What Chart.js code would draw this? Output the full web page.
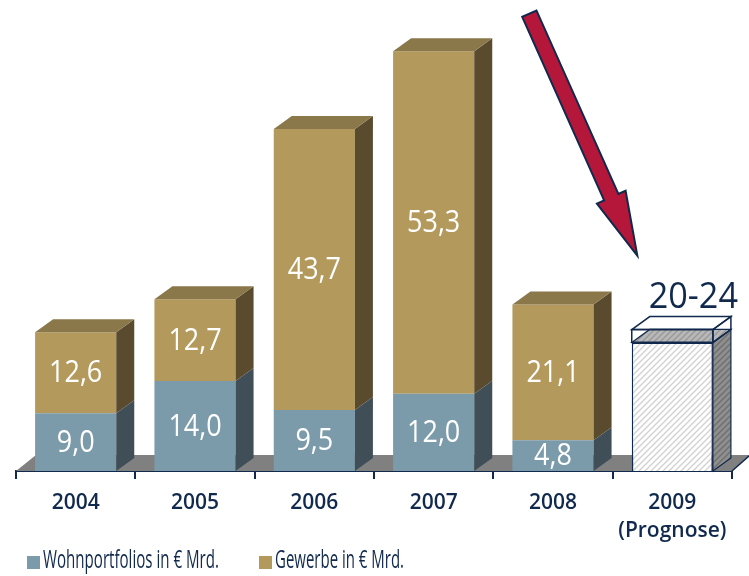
<!DOCTYPE html>
<html>
<head>
<meta charset="utf-8">
<script src="https://cdn.jsdelivr.net/npm/chart.js@4"></script>
<style>html,body{margin:0;padding:0;background:#fff}</style>
</head>
<body>
<canvas id="chart" width="749" height="576"></canvas>
<script>
const years = ['2004', '2005', '2006', '2007', '2008', ['2009', '(Prognose)']];
const wohn = [9.0, 14.0, 9.5, 12.0, 4.8, null];
const gewerbe = [12.6, 12.7, 43.7, 53.3, 21.1, null];
const prognose = [null, null, null, null, null, 20];
const spanne = [null, null, null, null, null, 2];
const prognoseText = '20-24';
const seriesNames = ['Wohnportfolios in € Mrd.', 'Gewerbe in € Mrd.'];

const navy = '#10294d';
const DX = 18, DY = 13;
const canvas = document.getElementById('chart');
const ctx = canvas.getContext('2d');

function hatch(bg, fg) {
  const c = document.createElement('canvas');
  c.width = 6; c.height = 6;
  const g = c.getContext('2d');
  g.fillStyle = bg;
  g.fillRect(0, 0, 6, 6);
  g.strokeStyle = fg;
  g.lineWidth = 1.4;
  g.beginPath();
  g.moveTo(-3, 3); g.lineTo(3, -3);
  g.moveTo(0, 6); g.lineTo(6, 0);
  g.moveTo(3, 9); g.lineTo(9, 3);
  g.stroke();
  return ctx.createPattern(c, 'repeat');
}

const faces = [
  {side: '#3f4e57', top: '#6b8593'},
  {side: '#5a4b2e', top: '#8a774a'},
  {side: hatch('#8f8f8f', '#6f6f6f'), top: hatch('#b8b8b8', '#989898')},
  {side: null, top: null}
];

function fmt(v) { return v.toFixed(1).replace('.', ','); }

function poly(pts, fill, stroke, lw) {
  ctx.beginPath();
  ctx.moveTo(pts[0][0], pts[0][1]);
  for (let i = 1; i < pts.length; i++) ctx.lineTo(pts[i][0], pts[i][1]);
  ctx.closePath();
  if (fill) { ctx.fillStyle = fill; ctx.fill(); }
  if (stroke) { ctx.strokeStyle = stroke; ctx.lineWidth = lw || 1.5; ctx.stroke(); }
}

// draw text squeezed horizontally, like the narrow original font
function narrowText(txt, x, y, squeeze) {
  const w = ctx.measureText(txt).width;
  ctx.fillText(txt, x, y, w * squeeze);
}

const threeD = {
  id: 'threeD',
  beforeDatasetsDraw(chart) {
    const {left, right, bottom} = chart.chartArea;
    ctx.save();
    poly([[left, bottom], [left + 20, bottom - 16], [right + 18, bottom - 16], [right, bottom]], '#808080');
    ctx.strokeStyle = navy;
    ctx.lineWidth = 1.5;
    ctx.beginPath();
    ctx.moveTo(right, bottom); ctx.lineTo(right + 18, bottom - 16); ctx.lineTo(749, bottom - 16);
    ctx.stroke();
    ctx.restore();
  },
  afterDatasetsDraw(chart) {
    ctx.save();
    const n = chart.data.labels.length;
    for (let j = 0; j < n; j++) {
      let topIdx = -1;
      chart.data.datasets.forEach((ds, i) => { if (ds.data[j] != null && i !== 3) topIdx = i; });
      chart.data.datasets.forEach((ds, i) => {
        if (ds.data[j] == null) return;
        const bar = chart.getDatasetMeta(i).data[j];
        const x1 = bar.x - bar.width / 2, x2 = bar.x + bar.width / 2;
        const t = Math.min(bar.y, bar.base), b = Math.max(bar.y, bar.base);
        const f = faces[i];
        const outline = i >= 2 ? navy : null;
        if (i === 3) {
          poly([[x2, t], [x2 + DX, t - DY], [x2 + DX, b - DY], [x2, b]], null, navy, 1.5);
          poly([[x1, t], [x1 + DX, t - DY], [x2 + DX, t - DY], [x2, t]], null, navy, 1.5);
          ctx.strokeStyle = navy; ctx.lineWidth = 1.5;
          ctx.strokeRect(x1, t, x2 - x1, b - t);
          return;
        }
        poly([[x2, t], [x2 + DX, t - DY], [x2 + DX, b - DY], [x2, b]], f.side, outline, 1.2);
        if (i === topIdx) {
          poly([[x1, t], [x1 + DX, t - DY], [x2 + DX, t - DY], [x2, t]], f.top, outline, 1.2);
        }
        if (i < 2) {
          ctx.fillStyle = '#ffffff';
          ctx.font = '31px "Open Sans"';
          ctx.textAlign = 'center';
          ctx.textBaseline = 'middle';
          narrowText(fmt(ds.data[j]), bar.x, (t + b) / 2 + 1, 0.87);
        }
      });
    }
    // forecast range label
    const sp = chart.getDatasetMeta(3).data[5];
    ctx.fillStyle = navy;
    ctx.font = '36px "Open Sans"';
    ctx.textAlign = 'center';
    ctx.textBaseline = 'middle';
    narrowText(prognoseText, sp.x + 21, Math.min(sp.y, sp.base) - DY - 19, 0.95);

    // downward arrow
    const xs = chart.scales.x, ys = chart.scales.y;
    const tip = [xs.getPixelForValue(5) - 35, ys.getPixelForValue(33.5)];
    const ux = 0.4075, uy = 0.9132, nx = -uy, ny = ux;
    const L = 265, hl = 64, sw = 7.8, hw = 15.7;
    const tail = [tip[0] - ux * L, tip[1] - uy * L];
    const hb = [tip[0] - ux * hl, tip[1] - uy * hl];
    poly([
      [tail[0] + nx * sw, tail[1] + ny * sw],
      [hb[0] + nx * sw, hb[1] + ny * sw],
      [hb[0] + nx * hw, hb[1] + ny * hw],
      tip,
      [hb[0] - nx * hw, hb[1] - ny * hw],
      [hb[0] - nx * sw, hb[1] - ny * sw],
      [tail[0] - nx * sw, tail[1] - ny * sw]
    ], '#b5173a', navy, 2);
    ctx.restore();
  },
  afterDraw(chart) {
    ctx.save();
    const cols = [chart.data.datasets[0].backgroundColor, chart.data.datasets[1].backgroundColor];
    const pos = [[27, 176], [259, 129]];
    ctx.font = '26px "Open Sans"';
    ctx.textBaseline = 'middle';
    ctx.textAlign = 'left';
    seriesNames.forEach((name, i) => {
      ctx.fillStyle = cols[i];
      ctx.fillRect(pos[i][0], 556, 13, 13);
      ctx.fillStyle = navy;
      ctx.fillText(name, pos[i][0] + 16, 561, pos[i][1]);
    });
    ctx.restore();
  }
};

new Chart(canvas, {
  type: 'bar',
  data: {
    labels: years,
    datasets: [
      {label: seriesNames[0], data: wohn, backgroundColor: '#7b9aaa', borderWidth: 0},
      {label: seriesNames[1], data: gewerbe, backgroundColor: '#b39a5c', borderWidth: 0},
      {label: 'Prognose', data: prognose, backgroundColor: hatch('#ffffff', '#d2d2d2'), borderColor: navy, borderWidth: 1.5},
      {label: 'Spanne', data: spanne, backgroundColor: 'rgba(0,0,0,0)', borderColor: navy, borderWidth: 0}
    ]
  },
  options: {
    responsive: false,
    animation: false,
    devicePixelRatio: 1,
    categoryPercentage: 0.68,
    barPercentage: 1,
    layout: {padding: {left: 16, right: 17, top: 21, bottom: 0}},
    plugins: {legend: {display: false}, tooltip: {enabled: false}},
    scales: {
      x: {
        stacked: true,
        afterFit(scale) { scale.height = 105; },
        grid: {offset: true, drawOnChartArea: false, tickLength: 8, color: navy, lineWidth: 2},
        border: {color: navy, width: 2},
        ticks: {color: navy, padding: 10, font: {family: 'Open Sans', size: 21, weight: '600', lineHeight: 1.33}}
      },
      y: {stacked: true, display: false, min: 0, max: 70}
    }
  },
  plugins: [threeD]
});
</script>
</body>
</html>
